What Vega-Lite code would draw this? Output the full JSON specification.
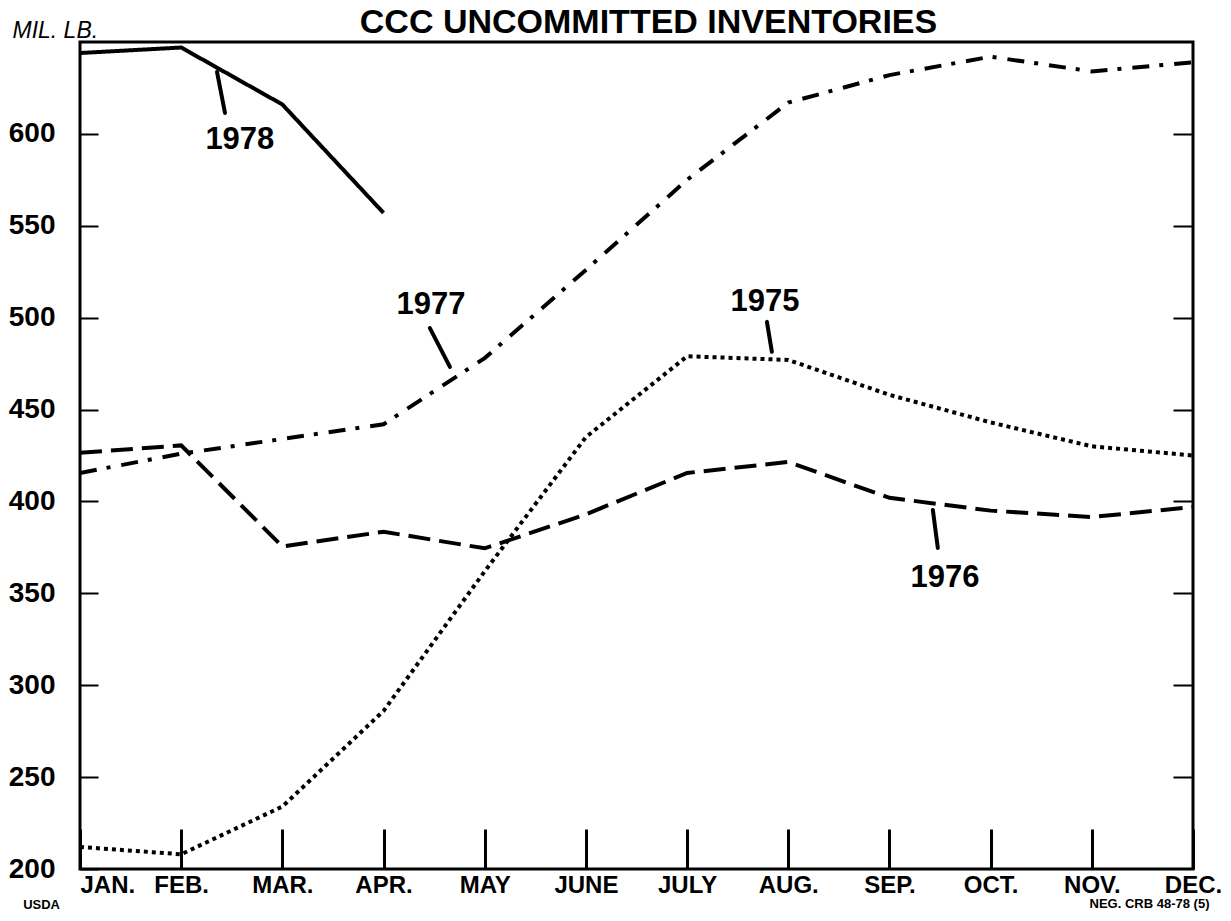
{
  "$schema": "https://vega.github.io/schema/vega-lite/v6.json",
  "width": 1113,
  "height": 827,
  "autosize": {"type": "none"},
  "padding": {"left": 80, "top": 42, "right": 38, "bottom": 52},
  "background": "white",
  "title": {"text": "CCC UNCOMMITTED INVENTORIES", "font": "Liberation Sans", "fontSize": 34, "fontWeight": "bold", "color": "black", "anchor": "middle", "dx": 12, "offset": -21},
  "config": {
    "view": {"stroke": "black", "strokeWidth": 3},
    "axis": {"grid": false, "domain": false, "tickColor": "black", "labelColor": "black", "labelFont": "Liberation Sans", "labelFontWeight": "bold", "titleColor": "black"}
  },
  "datasets": {
    "series": [
      {"series": "1975", "m": 1, "v": 212}, {"series": "1975", "m": 2, "v": 208}, {"series": "1975", "m": 3, "v": 234}, {"series": "1975", "m": 4, "v": 286},
      {"series": "1975", "m": 5, "v": 362}, {"series": "1975", "m": 6, "v": 435}, {"series": "1975", "m": 7, "v": 479}, {"series": "1975", "m": 8, "v": 477},
      {"series": "1975", "m": 9, "v": 458}, {"series": "1975", "m": 10, "v": 443}, {"series": "1975", "m": 11, "v": 430}, {"series": "1975", "m": 12, "v": 425},
      {"series": "1976", "m": 1, "v": 426.5}, {"series": "1976", "m": 2, "v": 430.5}, {"series": "1976", "m": 3, "v": 375.5}, {"series": "1976", "m": 4, "v": 383.5},
      {"series": "1976", "m": 5, "v": 374.5}, {"series": "1976", "m": 6, "v": 393}, {"series": "1976", "m": 7, "v": 415.5}, {"series": "1976", "m": 8, "v": 421.5},
      {"series": "1976", "m": 9, "v": 402}, {"series": "1976", "m": 10, "v": 395}, {"series": "1976", "m": 11, "v": 391.5}, {"series": "1976", "m": 12, "v": 397},
      {"series": "1977", "m": 1, "v": 415.5}, {"series": "1977", "m": 2, "v": 426}, {"series": "1977", "m": 3, "v": 434}, {"series": "1977", "m": 4, "v": 442},
      {"series": "1977", "m": 5, "v": 478}, {"series": "1977", "m": 6, "v": 526}, {"series": "1977", "m": 7, "v": 575}, {"series": "1977", "m": 8, "v": 617},
      {"series": "1977", "m": 9, "v": 632}, {"series": "1977", "m": 10, "v": 642}, {"series": "1977", "m": 11, "v": 634}, {"series": "1977", "m": 12, "v": 639},
      {"series": "1978", "m": 1, "v": 644}, {"series": "1978", "m": 2, "v": 647}, {"series": "1978", "m": 3, "v": 616}, {"series": "1978", "m": 4, "v": 557}
    ],
    "labels": [
      {"label": "1978", "m": 2.58, "v": 596.5, "m1": 2.354, "v1": 633.7, "m2": 2.433, "v2": 611.4},
      {"label": "1977", "m": 4.47, "v": 507, "m1": 4.458, "v1": 494.3, "m2": 4.656, "v2": 473.2},
      {"label": "1975", "m": 7.77, "v": 508.5, "m1": 7.789, "v1": 497.7, "m2": 7.838, "v2": 481.4},
      {"label": "1976", "m": 9.55, "v": 358.5, "m1": 9.429, "v1": 395.4, "m2": 9.478, "v2": 374.7}
    ],
    "footer": [
      {"t": "USDA", "m": 0.62, "v": 180.2},
      {"t": "NEG. CRB 48-78 (5)", "m": 11.57, "v": 180.8}
    ]
  },
  "layer": [
    {
      "data": {"name": "series"},
      "mark": {"type": "line", "strokeWidth": 4, "color": "black", "clip": true},
      "encoding": {
        "x": {"field": "m", "type": "quantitative", "scale": {"domain": [1, 12], "nice": false, "zero": false},
          "axis": {"orient": "bottom", "title": null, "values": [1,2,3,4,5,6,7,8,9,10,11,12],
            "labelExpr": "['JAN.','FEB.','MAR.','APR.','MAY','JUNE','JULY','AUG.','SEP.','OCT.','NOV.','DEC.'][datum.value-1]",
            "labelFontSize": 24, "labelOverlap": false, "labelBound": false, "labelFlush": false,
            "labelAlign": {"condition": {"test": "datum.value == 1", "value": "left"}, "value": "center"},
            "labelBaseline": "top", "tickSize": -40, "tickWidth": 3, "labelPadding": 44}},
        "y": {"field": "v", "type": "quantitative", "scale": {"domain": [200, 650], "nice": false, "zero": false},
          "axis": {"orient": "left", "values": [200,250,300,350,400,450,500,550,600], "labelFontSize": 28,
            "tickSize": -18, "tickWidth": 2, "labelPadding": 43, "labelBaseline": "middle",
            "title": "MIL. LB.", "titleAngle": 0, "titleAlign": "left", "titleBaseline": "alphabetic", "titleX": -68, "titleY": -5,
            "titleFont": "Liberation Sans", "titleFontSize": 23, "titleFontStyle": "italic", "titleFontWeight": "normal"}},
        "detail": {"field": "series"},
        "strokeDash": {"field": "series", "type": "nominal", "legend": null,
          "scale": {"domain": ["1975", "1976", "1977", "1978"], "range": [[4, 4], [22, 9], [17, 10, 4, 11], [1, 0]]}}
      }
    },
    {
      "data": {"name": "labels"},
      "mark": {"type": "rule", "strokeWidth": 4, "color": "black", "strokeCap": "round"},
      "encoding": {
        "x": {"field": "m1", "type": "quantitative"},
        "y": {"field": "v1", "type": "quantitative", "axis": null},
        "x2": {"field": "m2"},
        "y2": {"field": "v2"}
      }
    },
    {
      "data": {"name": "labels"},
      "mark": {"type": "text", "font": "Liberation Sans", "fontSize": 31, "fontWeight": "bold", "color": "black", "align": "center", "baseline": "middle"},
      "encoding": {
        "x": {"field": "m", "type": "quantitative"},
        "y": {"field": "v", "type": "quantitative",
          "axis": {"orient": "right", "values": [250,300,350,400,450,500,550,600], "labels": false, "tickSize": -20, "tickWidth": 2, "title": null}},
        "text": {"field": "label"}
      }
    },
    {
      "data": {"name": "footer"},
      "mark": {"type": "text", "font": "Liberation Sans", "fontSize": 13, "fontWeight": "bold", "color": "black", "align": "center", "baseline": "middle"},
      "encoding": {
        "x": {"field": "m", "type": "quantitative"},
        "y": {"field": "v", "type": "quantitative", "axis": null},
        "text": {"field": "t"}
      }
    }
  ],
  "resolve": {"axis": {"y": "independent"}}
}
